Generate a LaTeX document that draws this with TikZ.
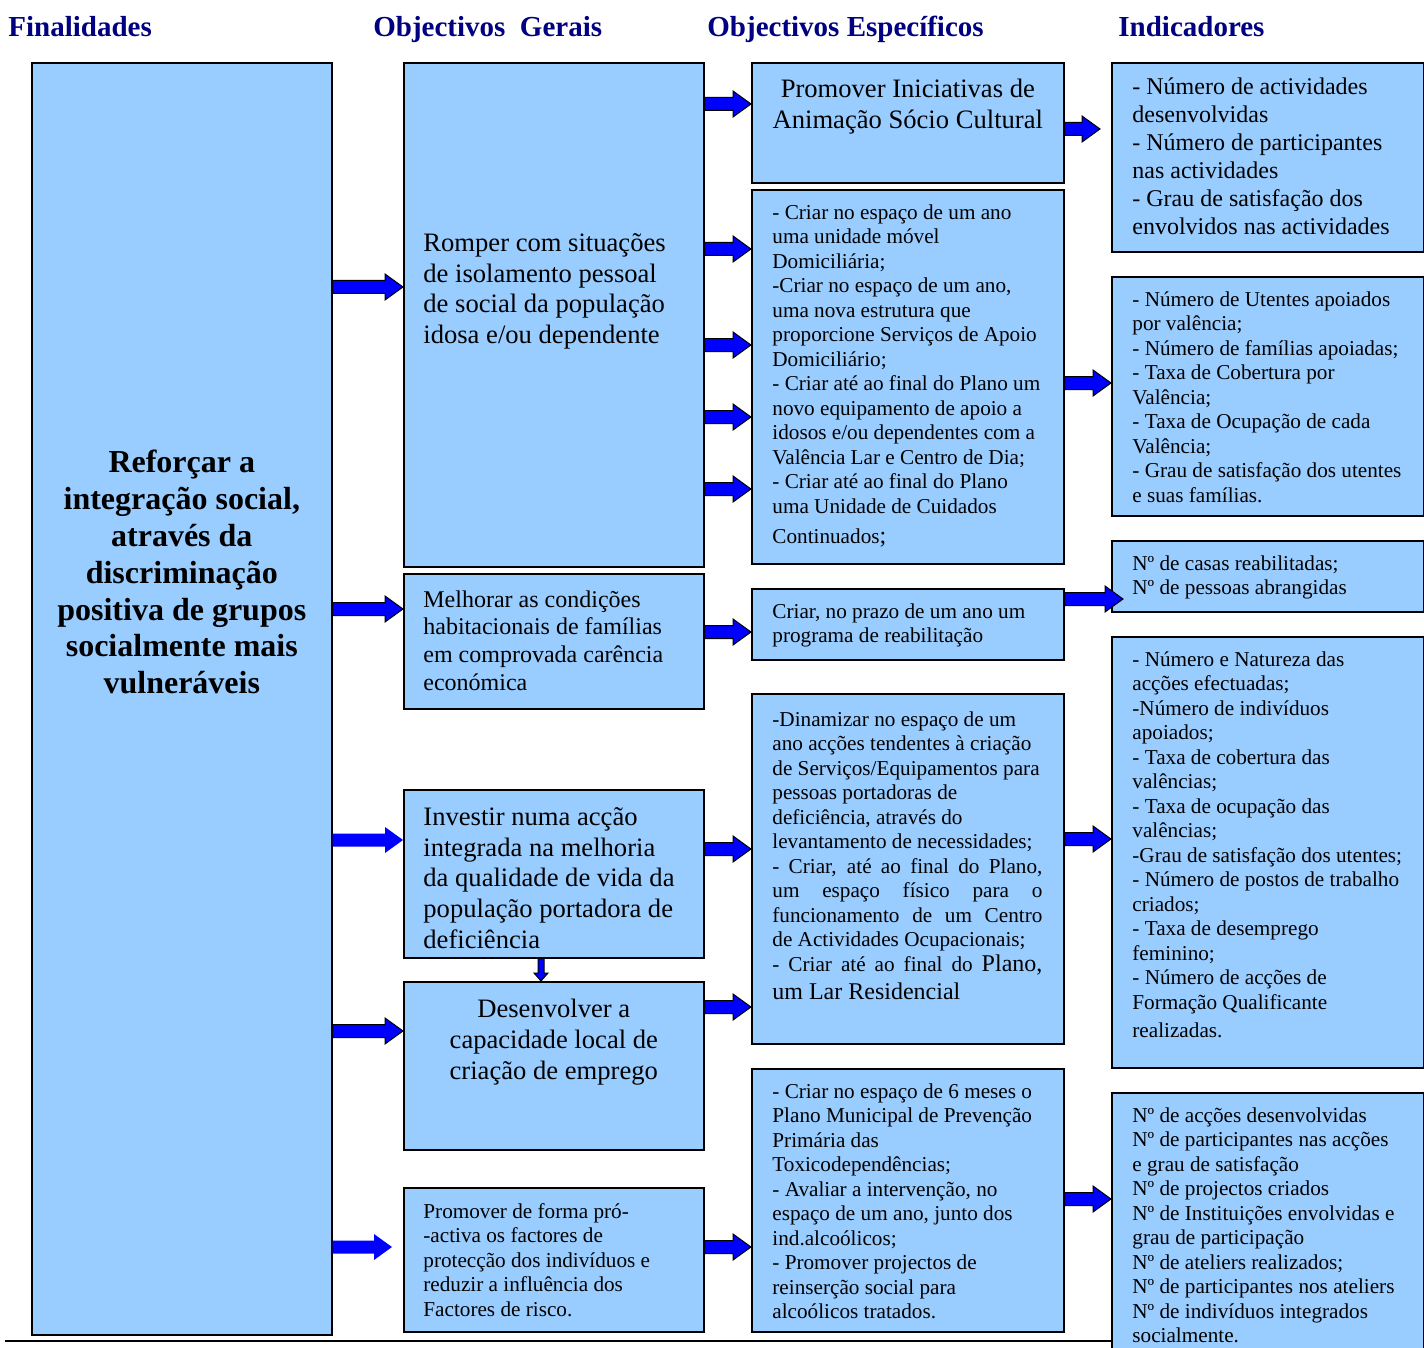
\documentclass[tikz,border=0pt]{standalone}
\usepackage{fontspec}
\setmainfont{Liberation Serif}
\usetikzlibrary{positioning, calc}
\definecolor{boxblue}{RGB}{153,204,255}
\definecolor{navy}{RGB}{0,0,128}
\newcommand\jline[1]{\makebox[135pt][s]{#1}}
\newcommand\midsize{\fontsize{12}{14}\selectfont}
\tikzset{
	box/.style={draw=black, line width=0.8pt, fill=boxblue, anchor=north west, inner sep=0pt},
	wh/.style 2 args={minimum width=#1*0.5pt, minimum height=#2*0.5pt},
	head/.style={font=\bfseries\fontsize{14.5}{17}\selectfont, text=navy, inner sep=0pt, anchor=base west},
	small/.style={font=\fontsize{10.6}{12.25}\selectfont, align=left, inner sep=0pt, execute at begin node=\strut},
	mid/.style={font=\fontsize{12}{14}\selectfont, align=left, inner sep=0pt, execute at begin node=\strut},
	big/.style={font=\fontsize{13.3}{15.35}\selectfont, align=left, inner sep=0pt, execute at begin node=\strut},
	fintext/.style={font=\bfseries\fontsize{16}{18.4}\selectfont, align=center, inner sep=0pt},
	barrow/.style={fill=blue, draw=black, line width=0.5pt, line join=miter,
		to path={let \p1=(\tikztostart), \p2=(\tikztotarget) in
			(\x1,\y1+3.25pt) -- (\x2-9pt,\y1+3.25pt) -- (\x2-9pt,\y1+6.5pt) -- (\x2,\y1)
			-- (\x2-9pt,\y1-6.5pt) -- (\x2-9pt,\y1-3.25pt) -- (\x1,\y1-3.25pt) -- cycle}},
	darrow/.style={fill=blue, draw=black, line width=0.5pt, line join=miter,
		to path={let \p1=(\tikztostart), \p2=(\tikztotarget) in
			(\x1-1.5pt,\y1) -- (\x1-1.5pt,\y2+4pt) -- (\x1-3.5pt,\y2+4pt) -- (\x1,\y2)
			-- (\x1+3.5pt,\y2+4pt) -- (\x1+1.5pt,\y2+4pt) -- (\x1+1.5pt,\y1) -- cycle}},
}
\begin{document}
\begin{tikzpicture}[x=0.5pt, y=-0.5pt]
	\useasboundingbox (0,0) rectangle (1424,1348);

	\node[head] (hFIN) at (8,37) {Finalidades};
	\node[head] (hOG) at (373,37) {Objectivos\ \ Gerais};
	\node[head] (hOE) at (707,37) {Objectivos Específicos};
	\node[head] (hIND) at (1118,37) {Indicadores};

	\node[box, wh={300}{1272}] (FIN) at (31,62) {};
	\node[box, wh={300}{504}] (OG1) at (403,62) {};
	\node[box, wh={300}{135}] (OG2) at (403,573) {};
	\node[box, wh={300}{168}] (OG3) at (403,789) {};
	\node[box, wh={300}{168}] (OG4) at (403,981) {};
	\node[box, wh={300}{144}] (OG5) at (403,1187) {};
	\node[box, wh={312}{120}] (OE1) at (751,62) {};
	\node[box, wh={312}{374}] (OE2) at (751,189) {};
	\node[box, wh={312}{71}] (OE3) at (751,588) {};
	\node[box, wh={312}{350}] (OE4) at (751,693) {};
	\node[box, wh={312}{263}] (OE5) at (751,1068) {};
	\node[box, wh={312}{189}] (IND1) at (1111,62) {};
	\node[box, wh={312}{239}] (IND2) at (1111,276) {};
	\node[box, wh={312}{71}] (IND3) at (1111,540) {};
	\node[box, wh={312}{431}] (IND4) at (1111,636) {};
	\node[box, wh={312}{280}] (IND5) at (1111,1092) {};

	\node[fintext, yshift=63.25pt] (tFIN) at (FIN.center) {Reforçar a\\integração social,\\através da\\discriminação\\positiva de grupos\\socialmente mais\\vulneráveis};

	\node[big, below right=85.5pt and 10pt of OG1.north west] (tOG1) {Romper com situações\\de isolamento pessoal\\de social da população\\idosa e/ou dependente};
	\node[mid, font=\fontsize{12}{13.85}\selectfont, below right=8.5pt and 10pt of OG2.north west] (tOG2) {Melhorar as condições\\habitacionais de famílias\\em comprovada carência\\económica};
	\node[big, below right=9pt and 10pt of OG3.north west] (tOG3) {Investir numa acção\\integrada na melhoria\\da qualidade de vida da\\população portadora de\\deficiência};
	\node[big, align=center, below=9pt of OG4.north] (tOG4) {Desenvolver a\\capacidade local de\\criação de emprego};
	\node[small, below right=8pt and 10pt of OG5.north west] (tOG5) {Promover de forma pró-\\-activa os factores de\\protecção dos indivíduos e\\reduzir a influência dos\\Factores de risco.};

	\node[big, align=center, below=8.5pt of OE1.north] (tOE1) {Promover Iniciativas de\\Animação Sócio Cultural};
	\node[small, below right=7.5pt and 10.5pt of OE2.north west] (tOE2) {- Criar no espaço de um ano\\uma unidade móvel\\Domiciliária;\\-Criar no espaço de um ano,\\uma nova estrutura que\\proporcione Serviços de Apoio\\Domiciliário;\\- Criar até ao final do Plano um\\novo equipamento de apoio a\\idosos e/ou dependentes com a\\Valência Lar e Centro de Dia;\\- Criar até ao final do Plano\\uma Unidade de Cuidados\\[2.75pt]Continuados{\midsize;}};
	\node[small, below right=7.5pt and 10.5pt of OE3.north west] (tOE3) {Criar, no prazo de um ano um\\programa de reabilitação};
	\node[small, below right=9pt and 10.5pt of OE4.north west] (tOE4) {-Dinamizar no espaço de um\\ano acções tendentes à criação\\de Serviços/Equipamentos para\\pessoas portadoras de\\deficiência, através do\\levantamento de necessidades;\\\jline{- Criar, até ao final do Plano,}\\\jline{um espaço físico para o}\\\jline{funcionamento de um Centro}\\de Actividades Ocupacionais;\\\jline{- Criar até ao final do {\midsize Plano,}}\\[1.75pt]{\midsize um Lar Residencial}};
	\node[small, below right=7.5pt and 10.5pt of OE5.north west] (tOE5) {- Criar no espaço de 6 meses o\\Plano Municipal de Prevenção\\Primária das\\Toxicodependências;\\- Avaliar a intervenção, no\\espaço de um ano, junto dos\\ind.alcoólicos;\\- Promover projectos de\\reinserção social para\\alcoólicos tratados.};

	\node[mid, below right=7.5pt and 10.5pt of IND1.north west] (tIND1) {- Número de actividades\\desenvolvidas\\- Número de participantes\\nas actividades\\- Grau de satisfação dos\\envolvidos nas actividades};
	\node[small, below right=7.5pt and 10.5pt of IND2.north west] (tIND2) {- Número de Utentes apoiados\\por valência;\\- Número de famílias apoiadas;\\- Taxa de Cobertura por\\Valência;\\- Taxa de Ocupação de cada\\Valência;\\- Grau de satisfação dos utentes\\e suas famílias.};
	\node[small, below right=7.5pt and 10.5pt of IND3.north west] (tIND3) {Nº de casas reabilitadas;\\Nº de pessoas abrangidas};
	\node[small, below right=7.5pt and 10.5pt of IND4.north west] (tIND4) {- Número e Natureza das\\acções efectuadas;\\-Número de indivíduos\\apoiados;\\- Taxa de cobertura das\\valências;\\- Taxa de ocupação das\\valências;\\-Grau de satisfação dos utentes;\\- Número de postos de trabalho\\criados;\\- Taxa de desemprego\\feminino;\\- Número de acções de\\Formação Qualificante\\[1.75pt]realizadas.};
	\node[small, below right=7.5pt and 10.5pt of IND5.north west] (tIND5) {Nº de acções desenvolvidas\\Nº de participantes nas acções\\e grau de satisfação\\Nº de projectos criados\\Nº de Instituições envolvidas e\\grau de participação\\Nº de ateliers realizados;\\Nº de participantes nos ateliers\\Nº de indivíduos integrados\\socialmente.};

	\coordinate[left=5.5pt of OG5.west] (OG5in);
	\coordinate[left=5.5pt of IND1.west] (IND1in);
	\coordinate[right=6pt of IND3.west] (IND3in);
	\coordinate (rule) at (5,1341);

	\draw[barrow] (FIN.east |- 0,287) to (OG1.west |- 0,287);
	\draw[barrow] (FIN.east |- 0,609) to (OG2.west |- 0,609);
	\draw[barrow, draw=none] (FIN.east |- 0,840) to (OG3.west |- 0,840);
	\draw[barrow] (FIN.east |- 0,1031) to (OG4.west |- 0,1031);
	\draw[barrow, draw=none] (FIN.east |- 0,1247) to (OG5in |- 0,1247);

	\draw[barrow] (OG1.east |- 0,104) to (OE1.west |- 0,104);
	\draw[barrow] (OG1.east |- 0,249) to (OE2.west |- 0,249);
	\draw[barrow] (OG1.east |- 0,345) to (OE2.west |- 0,345);
	\draw[barrow] (OG1.east |- 0,417) to (OE2.west |- 0,417);
	\draw[barrow] (OG1.east |- 0,489) to (OE2.west |- 0,489);
	\draw[barrow] (OG2.east |- 0,632) to (OE3.west |- 0,632);
	\draw[barrow] (OG3.east |- 0,849) to (OE4.west |- 0,849);
	\draw[barrow] (OG4.east |- 0,1007) to (OE4.west |- 0,1007);
	\draw[barrow] (OG5.east |- 0,1247) to (OE5.west |- 0,1247);
	\draw[darrow] (OG3.south -| 541,0) to (OG4.north -| 541,0);

	\draw[barrow] (OE1.east |- 0,129) to (IND1in |- 0,129);
	\draw[barrow] (OE2.east |- 0,383) to (IND2.west |- 0,383);
	\draw[barrow] (OE3.east |- 0,599) to (IND3in |- 0,599);
	\draw[barrow] (OE4.east |- 0,839) to (IND4.west |- 0,839);
	\draw[barrow] (OE5.east |- 0,1199) to (IND5.west |- 0,1199);

	\draw[line width=0.8pt] (rule) -- (IND5.west |- rule);
\end{tikzpicture}
\end{document}
